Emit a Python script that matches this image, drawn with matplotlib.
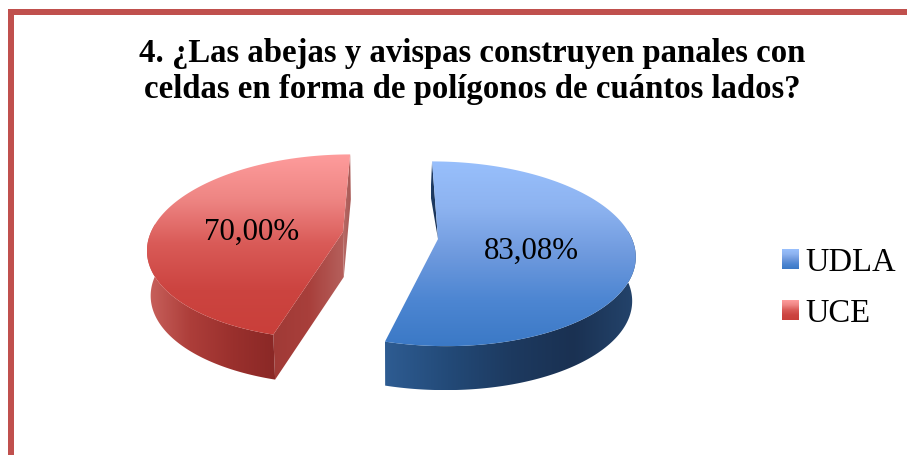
import numpy as np
import matplotlib
matplotlib.use("Agg")
import matplotlib.pyplot as plt
from matplotlib.colors import LinearSegmentedColormap as LSC
from matplotlib.patches import Polygon, Patch

categories = ["UDLA", "UCE"]
values = [83.08, 70.00]
labels = ["83,08%", "70,00%"]
title = "4. ¿Las abejas y avispas construyen panales con\nceldas en forma de polígonos de cuántos lados?"

W, H = 907, 455
VX, P = 395, 0.16
geom = {
    "UDLA": dict(ax=43, ay=239, a=194, b=90, depth=44),
    "UCE": dict(ax=-52, ay=232, a=192, b=90, depth=45),
}
style = {
    "UDLA": dict(top=["#98bffc", "#8db3f0", "#6f9ade", "#4d86d2", "#3b79c6"],
                 side=["#2e5c92", "#234a78", "#1d3a60", "#1a3152", "#24446c"],
                 cut=["#1c3658", "#1c3658"], back=["#1f3d66", "#1a3152"]),
    "UCE": dict(top=["#fe9c9c", "#ee8583", "#d95a57", "#cc4440", "#c93f3a"],
                side=["#c9625d", "#ad3e3a", "#9a302d", "#8a2826"],
                cut=["#a03a36", "#a83f3b", "#b5605c"], back=["#b86a66", "#a85a56"]),
}

fig = plt.figure(figsize=(W / 100, H / 100), dpi=100)
ax = fig.add_axes([0, 0, 1, 1])
ax.set_xlim(0, W)
ax.set_ylim(H, 0)
ax.axis("off")
plt.rcParams["font.family"] = ["Liberation Serif"]


def project(X, Y, g):
    w = 1 + P * np.asarray(Y)
    return VX + (g["ax"] + g["a"] * np.asarray(X)) / w, g["ay"] - g["b"] * np.asarray(Y) / w


def lower(pts, g):
    pts = np.asarray(pts, float)
    return np.column_stack([pts[:, 0] + 0.015 * (VX - pts[:, 0]), pts[:, 1] + g["depth"]])


def gradient(pts, colors, vertical, z):
    pts = np.asarray(pts)
    x0, y0 = pts.min(axis=0)
    x1, y1 = pts.max(axis=0)
    t = np.linspace(0, 1, 256)
    data = t[:, None] if vertical else t[None, :]
    im = ax.imshow(data, cmap=LSC.from_list("g", colors), extent=(x0, x1, y1, y0),
                   aspect="auto", zorder=z, interpolation="bilinear", origin="upper", vmin=0, vmax=1)
    im.set_clip_path(Polygon(pts, closed=True, transform=ax.transData))


# frame
ax.fill_between([8, W], 9, 15, color="#c0504d", lw=0, zorder=1)
ax.fill_between([8, 14], 9, H, color="#c0504d", lw=0, zorder=1)

edges = np.cumsum([0] + values) / sum(values) * 2 * np.pi
for i, cat in enumerate(categories):
    g, s = geom[cat], style[cat]
    th = np.linspace(edges[i], edges[i + 1], 240)
    X, Y = np.sin(th), np.cos(th)
    arc = np.column_stack(project(X, Y, g))
    apex = np.array([VX + g["ax"], g["ay"]], float)
    z = 2 + i * 0.1
    low_arc, low_apex = lower(arc, g), lower([apex], g)[0]
    # faces of the extruded slice, back to front
    if cat == "UDLA":
        gradient(np.array([arc[0], apex, low_arc[0] + [-1, -10]]), s["back"], False, z)
    else:
        gradient(np.array([arc[-1], apex, low_apex, low_arc[-1]]), s["back"], False, z)
        gradient(np.array([arc[0], apex, low_apex, low_arc[0]]), s["cut"], False, z + 0.01)
    front = Y <= 0.1
    gradient(np.vstack([arc[front], low_arc[front][::-1]]), s["side"], False, z + 0.02)
    gradient(np.vstack([arc, apex]), s["top"], True, z + 0.03)
    # value label
    mid = 0.5 * (edges[i] + edges[i + 1])
    lx, ly = project(0.49 * np.sin(mid), 0.49 * np.cos(mid), g)
    ax.text(float(lx) - (2 if i == 0 else 0), float(ly) + (6 if i == 0 else 6), labels[i],
            ha="center", va="center", fontsize=22.3, color="black", zorder=6)

ax.text(472, 71.5, title, ha="center", va="center", fontsize=23.6, fontweight="bold",
        linespacing=1.17, color="black", zorder=6)

handles = [Patch(facecolor=style[c]["top"][2], label=c) for c in categories]
leg = ax.legend(handles=handles, loc="center left", bbox_to_anchor=(782 / W, 1 - 288.5 / H),
                frameon=False, fontsize=23.5, labelspacing=0.62, handlelength=0.52,
                handleheight=0.52, handletextpad=0.2, borderpad=0, borderaxespad=0)
leg.set_zorder(5)
fig.canvas.draw()
inv = ax.transData.inverted()
for patch, cat in zip(leg.get_patches(), categories):
    bb = patch.get_window_extent().transformed(inv)
    im = ax.imshow(np.linspace(0, 1, 64)[:, None], cmap=LSC.from_list("g", style[cat]["top"]),
                   extent=(bb.x0, bb.x1, max(bb.y0, bb.y1), min(bb.y0, bb.y1)), aspect="auto", zorder=7,
                   origin="upper")
ax.set_xlim(0, W)
ax.set_ylim(H, 0)
fig.savefig("out.png", dpi=100, facecolor="white")
